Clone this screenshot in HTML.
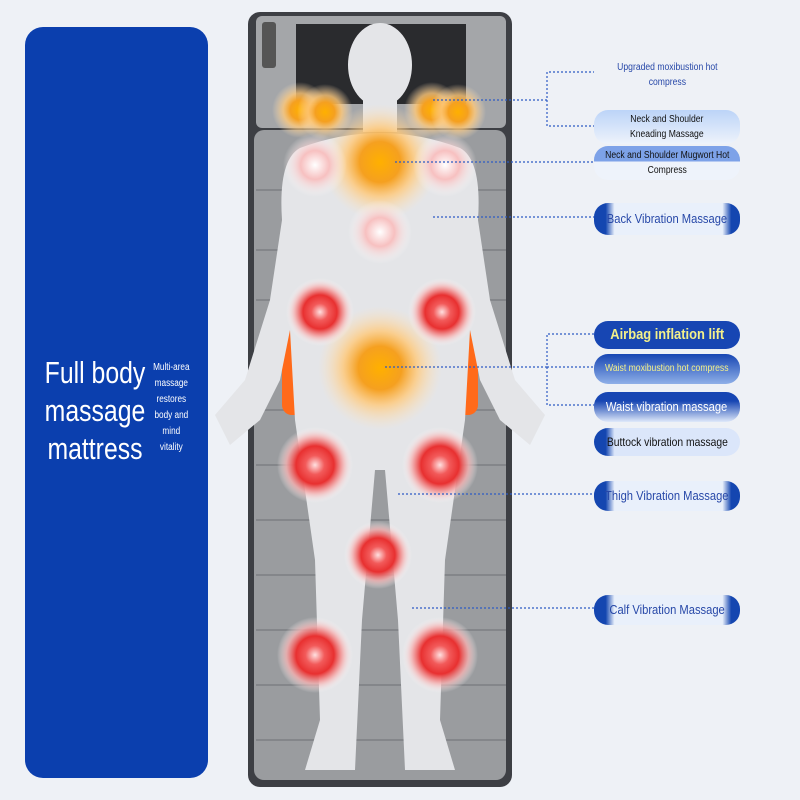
<!DOCTYPE html>
<html><head><style>
body{margin:0;width:800px;height:800px;background:#eef1f6;position:relative;overflow:hidden;font-family:"Liberation Sans",sans-serif}
.panel{position:absolute;left:25px;top:27px;width:183px;height:751px;background:#0b3fae;border-radius:18px}
.t1{position:absolute;left:43px;top:354px;color:#fff;font-size:31px;line-height:38px;text-align:center;width:130px;white-space:nowrap;transform:scaleX(0.8);transform-origin:left top}
.t2{position:absolute;left:150px;top:360px;color:#fff;font-size:10px;line-height:16px;text-align:center;width:52px;white-space:nowrap;transform:scaleX(0.82);transform-origin:left top}
.lab{position:absolute;left:594px;width:146px;display:flex;align-items:center;justify-content:center;text-align:center;font-size:11px;line-height:16px;border-radius:14px;white-space:nowrap}
.lab span{display:inline-block;transform:scaleX(0.86)}
</style></head><body>
<div class="panel"></div>
<div class="t1">Full body<br>massage<br>mattress</div>
<div class="t2">Multi-area<br>massage<br>restores<br>body and<br>mind<br>vitality</div>
<svg width="800" height="800" style="position:absolute;left:0;top:0">
<defs>
<radialGradient id="red"><stop offset="0" stop-color="#ffe0e0"/><stop offset=".25" stop-color="#f25a5a"/><stop offset=".5" stop-color="#e83030"/><stop offset=".75" stop-color="#f6b0b0" stop-opacity=".8"/><stop offset="1" stop-color="#fff" stop-opacity="0"/></radialGradient>
<radialGradient id="pk"><stop offset="0" stop-color="#fff"/><stop offset=".45" stop-color="#f7c0c0"/><stop offset="1" stop-color="#fff" stop-opacity="0"/></radialGradient>
<radialGradient id="or"><stop offset="0" stop-color="#ffb000"/><stop offset=".35" stop-color="#f5a020"/><stop offset=".6" stop-color="#ffc97a" stop-opacity=".8"/><stop offset="1" stop-color="#ffe4c0" stop-opacity="0"/></radialGradient>
</defs>
<rect x="248" y="12" width="264" height="775" rx="12" fill="#3d3f44"/>
<rect x="254" y="130" width="252" height="650" rx="10" fill="#9a9c9f"/>
<rect x="256" y="16" width="250" height="112" rx="6" fill="#a4a6a9"/>
<rect x="296" y="24" width="170" height="80" fill="#2a2b2e"/>
<rect x="262" y="22" width="14" height="46" rx="3" fill="#555"/>
<g stroke="#84868a" stroke-width="2">
<line x1="256" y1="190" x2="506" y2="190"/><line x1="256" y1="250" x2="506" y2="250"/><line x1="256" y1="300" x2="506" y2="300"/><line x1="256" y1="355" x2="506" y2="355"/><line x1="256" y1="410" x2="506" y2="410"/><line x1="256" y1="465" x2="506" y2="465"/><line x1="256" y1="520" x2="506" y2="520"/><line x1="256" y1="575" x2="506" y2="575"/><line x1="256" y1="630" x2="506" y2="630"/><line x1="256" y1="685" x2="506" y2="685"/><line x1="256" y1="740" x2="506" y2="740"/></g>
<rect x="282" y="310" width="196" height="105" rx="10" fill="#ff6a1a"/>
<g fill="#e4e5e8">
<ellipse cx="380" cy="65" rx="32" ry="42"/>
<rect x="363" y="100" width="34" height="32"/>
<path d="M300 148 Q380 118 460 148 Q482 160 478 220 L490 300 L515 380 L545 415 L530 445 L500 420 L480 380 L470 330 L465 420 L445 560 L440 720 L455 770 L405 770 L398 620 L385 470 L375 470 L362 620 L355 770 L305 770 L320 720 L315 560 L295 420 L290 330 L280 380 L260 420 L230 445 L215 415 L245 380 L270 300 L282 220 Q278 160 300 148 Z"/>
</g>
<g>
<circle cx="300" cy="110" r="28" fill="url(#or)"/><circle cx="325" cy="112" r="28" fill="url(#or)"/>
<circle cx="432" cy="110" r="28" fill="url(#or)"/><circle cx="458" cy="112" r="28" fill="url(#or)"/>
<circle cx="380" cy="162" r="58" fill="url(#or)"/>
<circle cx="380" cy="368" r="62" fill="url(#or)"/>
<circle cx="315" cy="165" r="32" fill="url(#pk)"/><circle cx="445" cy="165" r="32" fill="url(#pk)"/>
<circle cx="380" cy="232" r="32" fill="url(#pk)"/>
<circle cx="320" cy="312" r="34" fill="url(#red)"/><circle cx="442" cy="312" r="34" fill="url(#red)"/>
<circle cx="315" cy="465" r="38" fill="url(#red)"/><circle cx="440" cy="465" r="38" fill="url(#red)"/>
<circle cx="378" cy="555" r="34" fill="url(#red)"/>
<circle cx="315" cy="655" r="38" fill="url(#red)"/><circle cx="440" cy="655" r="38" fill="url(#red)"/>
</g>
<g stroke="#2d5bc4" stroke-width="1.2" stroke-dasharray="2,2" fill="none">
<polyline points="433,100 547,100 547,72 595,72"/><polyline points="547,100 547,126 595,126"/>
<line x1="395" y1="162" x2="595" y2="162"/>
<line x1="433" y1="217" x2="595" y2="217"/>
<polyline points="385,367 547,367 547,334 595,334"/><line x1="547" y1="367" x2="595" y2="367"/><polyline points="547,367 547,405 595,405"/>
<line x1="398" y1="494" x2="595" y2="494"/>
<line x1="412" y1="608" x2="595" y2="608"/>
</g>
</svg>
<div class="lab" style="top:58px;height:34px;background:#eef1f6;color:#2748a8;font-size:10px;line-height:15px"><span>Upgraded moxibustion hot<br>compress</span></div>
<div class="lab" style="top:110px;height:34px;background:linear-gradient(#bcd4f8,#eef3fb);color:#111;font-size:10px;line-height:15px"><span>Neck and Shoulder<br>Kneading Massage</span></div>
<div class="lab" style="top:146px;height:34px;background:linear-gradient(#7da2e8 45%,#eef3fb 45%);color:#111;font-size:10px;line-height:15px"><span>Neck and Shoulder Mugwort Hot<br>Compress</span></div>
<div class="lab" style="top:203px;height:32px;background:linear-gradient(90deg,#1446b0 8%,#e9f0fb 14%,#e9f0fb 88%,#1446b0 94%);color:#2748a8;font-size:13px"><span>Back Vibration Massage</span></div>
<div class="lab" style="top:321px;height:28px;background:#1746b3;color:#f3f08a;font-size:15px;font-weight:bold"><span>Airbag inflation lift</span></div>
<div class="lab" style="top:354px;height:30px;background:linear-gradient(#1746b3,#8fb0e8);color:#f3f08a;font-size:10px"><span>Waist moxibustion hot compress</span></div>
<div class="lab" style="top:392px;height:30px;background:linear-gradient(#1746b3 30%,#dfe9fa);color:#fff;font-size:13px"><span>Waist vibration massage</span></div>
<div class="lab" style="top:428px;height:28px;background:linear-gradient(90deg,#1446b0 8%,#dbe6fa 14%);color:#111;font-size:12px"><span>Buttock vibration massage</span></div>
<div class="lab" style="top:481px;height:30px;background:linear-gradient(90deg,#1446b0 8%,#e9f0fb 14%,#e9f0fb 88%,#1446b0 94%);color:#2748a8;font-size:13px"><span>Thigh Vibration Massage</span></div>
<div class="lab" style="top:595px;height:30px;background:linear-gradient(90deg,#1446b0 8%,#e9f0fb 14%,#e9f0fb 88%,#1446b0 94%);color:#2748a8;font-size:13px"><span>Calf Vibration Massage</span></div>
</body></html>
